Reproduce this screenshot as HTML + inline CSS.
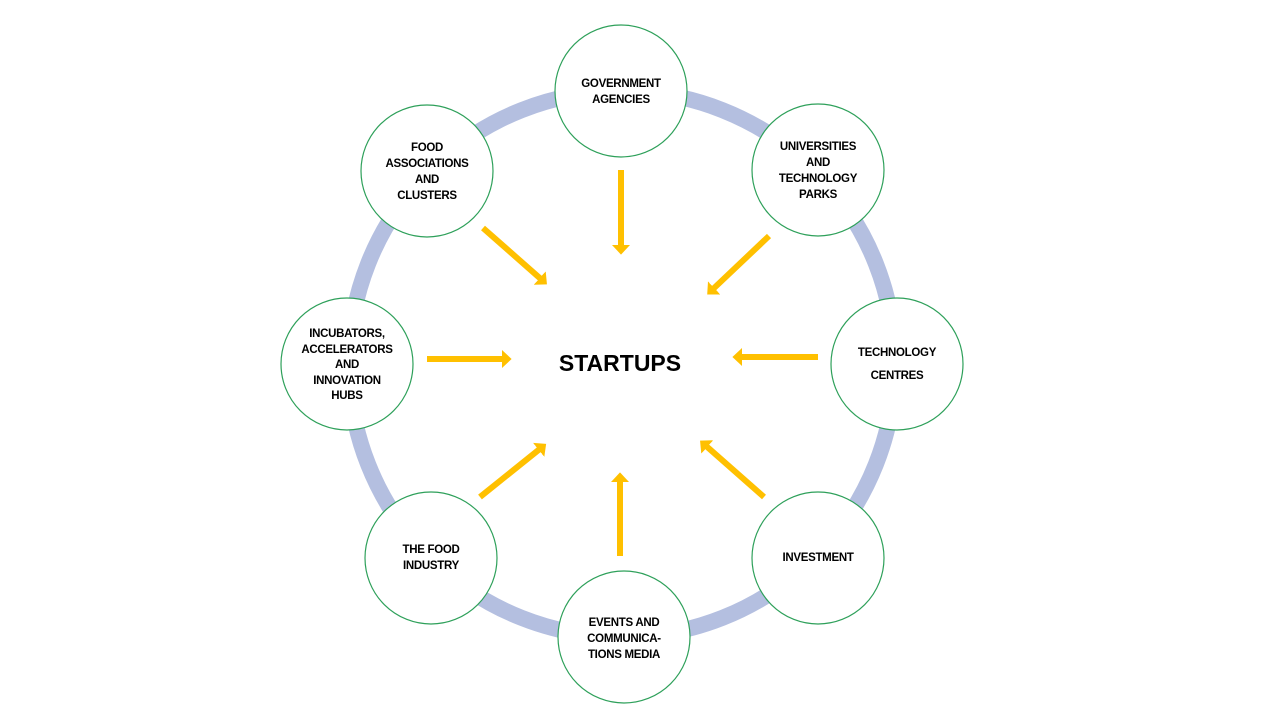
<!DOCTYPE html>
<html><head><meta charset="utf-8"><style>
html,body{margin:0;padding:0;background:#fff;width:1280px;height:720px;overflow:hidden}
svg text{font-family:"Liberation Sans",sans-serif;font-weight:bold;fill:#000}
.l{font-size:11.5px;text-anchor:middle;letter-spacing:-0.3px}
</style></head><body>
<svg width="1280" height="720" viewBox="0 0 1280 720" xmlns="http://www.w3.org/2000/svg">
<defs>
<marker id="ah" markerWidth="3" markerHeight="3" refX="0.5" refY="1.5" orient="auto" markerUnits="strokeWidth">
<path d="M0,0 L1.6,1.5 L0,3 Z" fill="#FFC000"/>
</marker>
</defs>
<circle cx="622" cy="364" r="273" fill="none" stroke="#b4bfe0" stroke-width="16"/>
<g stroke="#FFC000" stroke-width="6" marker-end="url(#ah)">
<line x1="621" y1="170" x2="621" y2="248"/>
<line x1="483" y1="228" x2="542" y2="280"/>
<line x1="769" y1="236" x2="712" y2="290"/>
<line x1="427" y1="359" x2="505" y2="359"/>
<line x1="818" y1="357" x2="739" y2="357"/>
<line x1="480" y1="497" x2="541" y2="448"/>
<line x1="764" y1="497" x2="705" y2="445"/>
<line x1="620" y1="556" x2="620" y2="479"/>
</g>
<g fill="#fff" stroke="#2ea05a" stroke-width="1.2">
<circle cx="621" cy="91" r="66"/>
<circle cx="818" cy="170" r="66"/>
<circle cx="897" cy="364" r="66"/>
<circle cx="818" cy="558" r="66"/>
<circle cx="624" cy="637" r="66"/>
<circle cx="431" cy="558" r="66"/>
<circle cx="347" cy="364" r="66"/>
<circle cx="427" cy="171" r="66"/>
</g>
<text class="l" x="621" y="87">GOVERNMENT</text>
<text class="l" x="621" y="103">AGENCIES</text>
<text class="l" x="818" y="150">UNIVERSITIES</text>
<text class="l" x="818" y="166">AND</text>
<text class="l" x="818" y="182">TECHNOLOGY</text>
<text class="l" x="818" y="198">PARKS</text>
<text class="l" x="897" y="356">TECHNOLOGY</text>
<text class="l" x="897" y="379">CENTRES</text>
<text class="l" x="818" y="561">INVESTMENT</text>
<text class="l" x="624" y="626">EVENTS AND</text>
<text class="l" x="624" y="642">COMMUNICA-</text>
<text class="l" x="624" y="658">TIONS MEDIA</text>
<text class="l" x="431" y="553">THE FOOD</text>
<text class="l" x="431" y="569">INDUSTRY</text>
<text class="l" x="347" y="337">INCUBATORS,</text>
<text class="l" x="347" y="353">ACCELERATORS</text>
<text class="l" x="347" y="368">AND</text>
<text class="l" x="347" y="384">INNOVATION</text>
<text class="l" x="347" y="399">HUBS</text>
<text class="l" x="427" y="151">FOOD</text>
<text class="l" x="427" y="167">ASSOCIATIONS</text>
<text class="l" x="427" y="183">AND</text>
<text class="l" x="427" y="199">CLUSTERS</text>
<text x="620" y="371" style="font-size:23px;text-anchor:middle">STARTUPS</text>
</svg>
</body></html>
